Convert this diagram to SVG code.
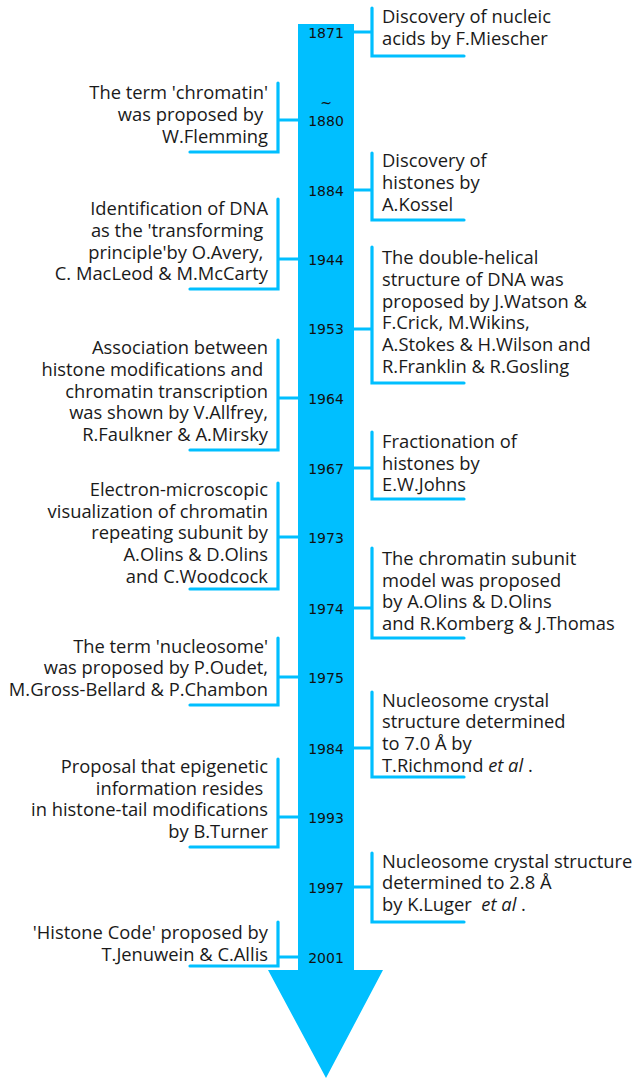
<svg xmlns="http://www.w3.org/2000/svg" width="635" height="1078" viewBox="0 0 635 1078">
<style>
.t{font-family:"Open Sans","Noto Sans",sans-serif;font-size:18.35px;fill:#1a1a1a}
.l{text-anchor:end}
.y{font-family:"DejaVu Sans",sans-serif;font-size:14px;fill:#111;text-anchor:middle}
.b{fill:none;stroke:#00bfff;stroke-width:3.2;stroke-linecap:round;stroke-linejoin:miter}
.it{font-style:italic}
</style>
<rect width="635" height="1078" fill="#fff"/>
<g id="arrow">
<path d="M298,24 H354 V970 H383 L326,1078 L268,970 H298 Z" fill="#00bfff"/>
</g>
<g id="connectors">
<path class="b" d="M354,32 H372 M372,8 V56 H464"/>
<path class="b" d="M354,190 H372 M372,153 V220 H464"/>
<path class="b" d="M354,329 H372 M372,247 V383 H464"/>
<path class="b" d="M354,468 H372 M372,432 V499 H464"/>
<path class="b" d="M354,608 H372 M372,548 V638 H464"/>
<path class="b" d="M354,748 H372 M372,692 V777 H464"/>
<path class="b" d="M354,887 H372 M372,853 V922 H464"/>
<path class="b" d="M298,120 H278 M278,83 V152 H190"/>
<path class="b" d="M298,259 H278 M278,199 V289 H190"/>
<path class="b" d="M298,398 H278 M278,340 V450 H190"/>
<path class="b" d="M298,537 H278 M278,483 V589 H190"/>
<path class="b" d="M298,677 H278 M278,638 V705 H190"/>
<path class="b" d="M298,817 H278 M278,759 V847 H190"/>
<path class="b" d="M298,957 H278 M278,922 V966 H190"/>
</g>
<g id="years">
<text class="y" x="326" y="38">1871</text>
<text class="y" x="326" y="108">~</text>
<text class="y" x="326" y="126">1880</text>
<text class="y" x="326" y="196">1884</text>
<text class="y" x="326" y="265">1944</text>
<text class="y" x="326" y="334">1953</text>
<text class="y" x="326" y="404">1964</text>
<text class="y" x="326" y="474">1967</text>
<text class="y" x="326" y="543">1973</text>
<text class="y" x="326" y="614">1974</text>
<text class="y" x="326" y="683">1975</text>
<text class="y" x="326" y="754">1984</text>
<text class="y" x="326" y="823">1993</text>
<text class="y" x="326" y="893">1997</text>
<text class="y" x="326" y="963">2001</text>
</g>
<g id="n1871">
<text class="t" x="382" y="23"><tspan x="382">Discovery of nucleic</tspan><tspan x="382" y="45">acids by F.Miescher</tspan></text>
</g>
<g id="n1880">
<text class="t l" x="268" y="99"><tspan x="268">The term 'chromatin'</tspan><tspan x="268" y="121">was proposed by&#160;</tspan><tspan x="268" y="143">W.Flemming</tspan></text>
</g>
<g id="n1884">
<text class="t" x="382" y="167"><tspan x="382">Discovery of</tspan><tspan x="382" y="189">histones by</tspan><tspan x="382" y="211">A.Kossel</tspan></text>
</g>
<g id="n1944">
<text class="t l" x="268" y="215"><tspan x="268">Identification of DNA</tspan><tspan x="268" y="237">as the 'transforming&#160;</tspan><tspan x="268" y="259">principle'by O.Avery,&#160;</tspan><tspan x="268" y="280">C. MacLeod &amp; M.McCarty</tspan></text>
</g>
<g id="n1953">
<text class="t" x="382" y="264"><tspan x="382">The double-helical</tspan><tspan x="382" y="286">structure of DNA was</tspan><tspan x="382" y="308">proposed by J.Watson &amp;</tspan><tspan x="382" y="329">F.Crick, M.Wikins,</tspan><tspan x="382" y="351">A.Stokes &amp; H.Wilson and</tspan><tspan x="382" y="373">R.Franklin &amp; R.Gosling</tspan></text>
</g>
<g id="n1964">
<text class="t l" x="268" y="354"><tspan x="268">Association between</tspan><tspan x="268" y="376">histone modifications and&#160;</tspan><tspan x="268" y="398">chromatin transcription</tspan><tspan x="268" y="419">was shown by V.Allfrey,</tspan><tspan x="268" y="441">R.Faulkner &amp; A.Mirsky</tspan></text>
</g>
<g id="n1967">
<text class="t" x="382" y="448"><tspan x="382">Fractionation of</tspan><tspan x="382" y="470">histones by</tspan><tspan x="382" y="491">E.W.Johns</tspan></text>
</g>
<g id="n1973">
<text class="t l" x="268" y="496"><tspan x="268">Electron-microscopic</tspan><tspan x="268" y="518">visualization of chromatin</tspan><tspan x="268" y="539">repeating subunit by</tspan><tspan x="268" y="561">A.Olins &amp; D.Olins</tspan><tspan x="268" y="583">and C.Woodcock</tspan></text>
</g>
<g id="n1974">
<text class="t" x="382" y="565"><tspan x="382">The chromatin subunit</tspan><tspan x="382" y="587">model was proposed</tspan><tspan x="382" y="608">by A.Olins &amp; D.Olins</tspan><tspan x="382" y="630">and R.Komberg &amp; J.Thomas</tspan></text>
</g>
<g id="n1975">
<text class="t l" x="268" y="653"><tspan x="268">The term 'nucleosome'</tspan><tspan x="268" y="674">was proposed by P.Oudet,</tspan><tspan x="268" y="696">M.Gross-Bellard &amp; P.Chambon</tspan></text>
</g>
<g id="n1984">
<text class="t" x="382" y="707"><tspan x="382">Nucleosome crystal</tspan><tspan x="382" y="728">structure determined</tspan><tspan x="382" y="750">to 7.0 Å by</tspan><tspan x="382" y="772">T.Richmond <tspan class="it">et al</tspan> .</tspan></text>
</g>
<g id="n1993">
<text class="t l" x="268" y="773"><tspan x="268">Proposal that epigenetic</tspan><tspan x="268" y="795">information resides&#160;</tspan><tspan x="268" y="816">in histone-tail modifications</tspan><tspan x="268" y="838">by B.Turner</tspan></text>
</g>
<g id="n1997">
<text class="t" x="382" y="868"><tspan x="382">Nucleosome crystal structure</tspan><tspan x="382" y="889">determined to 2.8 Å</tspan><tspan x="382" y="911">by K.Luger&#160; <tspan class="it">et al</tspan> .</tspan></text>
</g>
<g id="n2001">
<text class="t l" x="268" y="939"><tspan x="268">'Histone Code' proposed by</tspan><tspan x="268" y="961">T.Jenuwein &amp; C.Allis</tspan></text>
</g>
</svg>
